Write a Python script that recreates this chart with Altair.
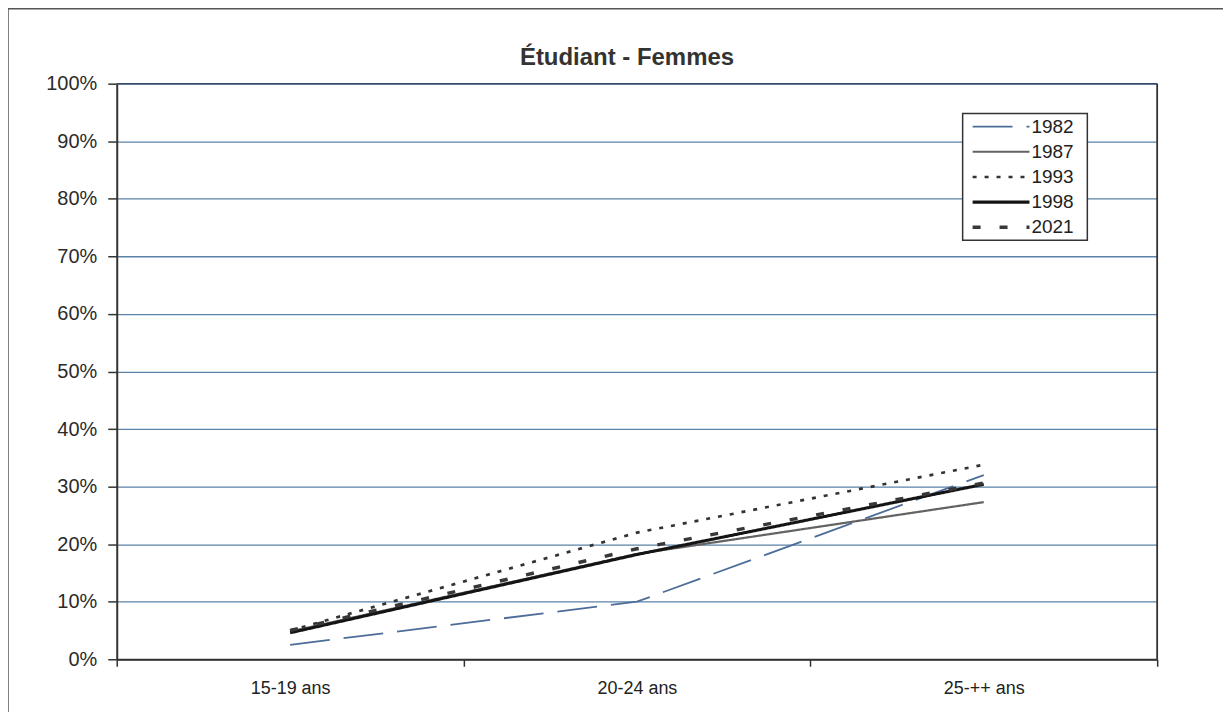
import altair as alt
import pandas as pd

# ---- data ----
ages = ["15-19 ans", "20-24 ans", "25-++ ans"]
years = ["1982", "1987", "1993", "1998", "2021"]
v1982 = [0.025, 0.100, 0.320]
v1987 = [0.048, 0.183, 0.273]
v1993 = [0.050, 0.220, 0.338]
v1998 = [0.046, 0.182, 0.304]
v2021 = [0.050, 0.192, 0.306]
y_ticks = [0.0, 0.1, 0.2, 0.3, 0.4, 0.5, 0.6, 0.7, 0.8, 0.9, 1.0]
title_text = "Étudiant - Femmes"

series = {"1982": v1982, "1987": v1987, "1993": v1993, "1998": v1998, "2021": v2021}
rows = []
for yr in years:
    for a, v in zip(ages, series[yr]):
        rows.append({"year": yr, "age": a, "value": v, "ord": years.index(yr)})
df = pd.DataFrame(rows)
leg = pd.DataFrame({"year": years})
ttl = pd.DataFrame({"t": [title_text]})

# ---- styles ----
colors = ["#4d6d99", "#636363", "#333333", "#141414", "#383838"]
dashes = [[40, 14], [1, 0], [4, 8], [1, 0], [8, 19]]
widths = [1.8, 3.5, 3.5, 5.0, 7.5]
FONT = "Liberation Sans, Arial, sans-serif"
NARROW = "'Liberation Sans Narrow', 'Liberation Sans', Arial, sans-serif"

W, H = 1043, 577

color = alt.Color("year:O", scale=alt.Scale(domain=years, range=colors), legend=None)
dash = alt.StrokeDash("year:O", scale=alt.Scale(domain=years, range=dashes), legend=None)
swidth = alt.StrokeWidth("year:O", scale=alt.Scale(domain=years, range=widths), legend=None)

lines = alt.Chart(df).mark_line(strokeCap="butt", strokeJoin="miter").encode(
    x=alt.X("age:N", sort=ages,
            scale=alt.Scale(type="band", domain=ages, paddingInner=0, paddingOuter=0),
            axis=alt.Axis(title=None, labelAngle=0, tickBand="extent", tickSize=7,
                          tickColor="#333", tickWidth=1.5, domainColor="#333", domainWidth=2,
                          labelFont=NARROW, labelFontSize=18, labelColor="#222",
                          labelPadding=13, grid=False)),
    y=alt.Y("value:Q", scale=alt.Scale(domain=[0, 1], nice=False, zero=True),
            axis=alt.Axis(title=None, values=y_ticks, format=".0%", tickSize=9,
                          tickColor="#333", tickWidth=1.5, domainColor="#333", domainWidth=2,
                          labelFont=FONT, labelFontSize=20, labelColor="#2a2a2a",
                          labelPadding=11, grid=True, gridColor="#5b82a8", gridWidth=1.3,
                          gridOpacity=1)),
    color=color,
    strokeDash=dash,
    strokeWidth=swidth,
    order=alt.Order("ord:Q"),
    detail="year:N",
)

# plot-area right and top borders (decoration)
plot_right = alt.Chart(ttl).mark_rule(stroke="#333", strokeWidth=1.8).encode(
    x=alt.value(W), y=alt.value(0), y2=alt.value(H)
)
plot_top = alt.Chart(ttl).mark_rule(stroke="#3a4a66", strokeWidth=1.5).encode(
    x=alt.value(0), x2=alt.value(W), y=alt.value(0)
)

# outer chart frame (decoration): top and left edges only, the rest lies outside the page
frame_top = alt.Chart(ttl).mark_rule(stroke="#555", strokeWidth=1.5).encode(
    x=alt.value(-109), x2=alt.value(W + 70), y=alt.value(-75)
)
frame_left = alt.Chart(ttl).mark_rule(stroke="#555", strokeWidth=1.5).encode(
    x=alt.value(-109), y=alt.value(-75), y2=alt.value(H + 60)
)

# title
title = alt.Chart(ttl).mark_text(font=FONT, fontSize=24, fontWeight="bold", color="#333",
                                 align="center", baseline="alphabetic").encode(
    x=alt.value(W / 2 - 10), y=alt.value(-19), text="t:N"
)

# legend box
legbox = alt.Chart(ttl).mark_rect(fill="white", stroke="#333", strokeWidth=1.5).encode(
    x=alt.value(848), x2=alt.value(973), y=alt.value(30), y2=alt.value(157)
)
leg_y = alt.Y("year:O", sort=years, scale=alt.Scale(type="point", domain=years,
                                                    range=[43, 144], padding=0), axis=None)
legsym = alt.Chart(leg).mark_rule(strokeCap="butt").encode(
    x=alt.value(858), x2=alt.value(915), y=leg_y,
    color=color, strokeDash=dash, strokeWidth=swidth,
)
legtxt = alt.Chart(leg).mark_text(font=FONT, fontSize=19, color="#222", align="left",
                                  baseline="middle").encode(
    x=alt.value(917), y=leg_y, text="year:N"
)

chart = alt.layer(frame_top, frame_left, lines, plot_right, plot_top, title,
                  legbox, legsym, legtxt).resolve_scale(
    y="independent"
).properties(
    width=W, height=H,
    autosize=alt.AutoSizeParams(type="none"),
    padding={"left": 109, "top": 75, "right": 66, "bottom": 52},
    background="white",
).configure_view(strokeOpacity=0, strokeWidth=0)

chart.save("out.html", embed_options={"renderer": "svg", "actions": False})
